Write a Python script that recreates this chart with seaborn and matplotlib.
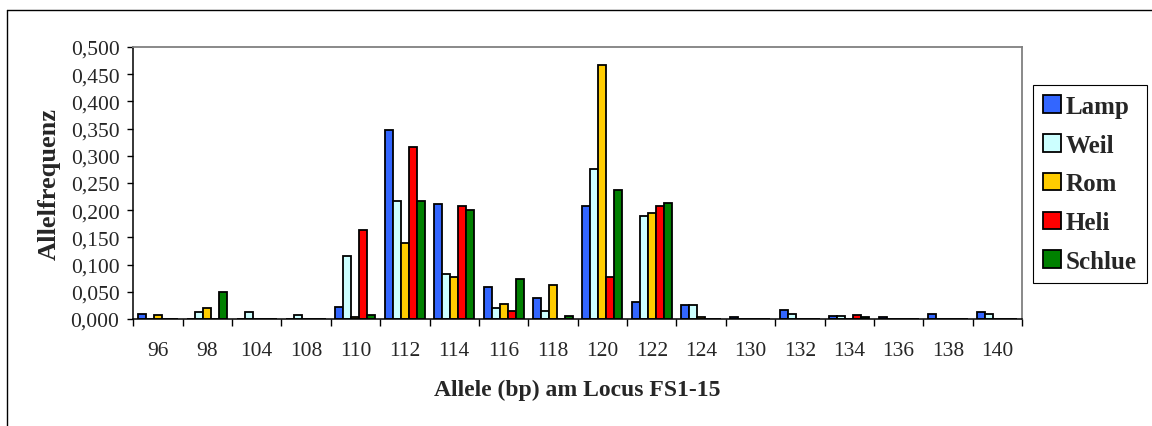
import numpy as np
import pandas as pd
import matplotlib
matplotlib.use('Agg')
import matplotlib.pyplot as plt
from matplotlib.lines import Line2D
from matplotlib.ticker import FuncFormatter
import seaborn as sns

# Allele (bp) am Locus FS1-15
alleles = ['96', '98', '104', '108', '110', '112', '114', '116', '118',
           '120', '122', '124', '130', '132', '134', '136', '138', '140']

lamp = [0.009, 0.000, 0.000, 0.000, 0.022, 0.348, 0.211, 0.059, 0.038,
        0.208, 0.031, 0.025, 0.003, 0.016, 0.006, 0.003, 0.010, 0.013]
weil = [0.000, 0.012, 0.012, 0.007, 0.116, 0.217, 0.083, 0.021, 0.015,
        0.276, 0.190, 0.025, 0.000, 0.010, 0.006, 0.000, 0.000, 0.009]
rom = [0.007, 0.020, 0.000, 0.000, 0.004, 0.140, 0.077, 0.027, 0.063,
       0.467, 0.194, 0.003, 0.000, 0.000, 0.000, 0.000, 0.000, 0.000]
heli = [0.000, 0.000, 0.000, 0.000, 0.164, 0.317, 0.208, 0.015, 0.000,
        0.077, 0.208, 0.000, 0.000, 0.000, 0.008, 0.000, 0.000, 0.000]
schlue = [0.000, 0.049, 0.000, 0.000, 0.007, 0.216, 0.201, 0.074, 0.005,
          0.237, 0.213, 0.000, 0.000, 0.000, 0.003, 0.000, 0.000, 0.000]

populations = ['Lamp', 'Weil', 'Rom', 'Heli', 'Schlue']
colors = ['#3366FF', '#CCFFFF', '#FFCC00', '#FF0000', '#008000']

series = {'Lamp': lamp, 'Weil': weil, 'Rom': rom, 'Heli': heli, 'Schlue': schlue}
rows = []
for pop in populations:
    for a, v in zip(alleles, series[pop]):
        rows.append({'allele': a, 'pop': pop, 'freq': v})
df = pd.DataFrame(rows)

sns.set_style('white')
plt.rcParams['font.family'] = ['Liberation Serif', 'DejaVu Serif']

fig = plt.figure(figsize=(11.52, 4.27), dpi=100)
ax = fig.add_axes([0.1157, 0.2506, 0.7715, 0.637])

sns.barplot(data=df, x='allele', y='freq', hue='pop', order=alleles,
            hue_order=populations, palette=dict(zip(populations, colors)),
            saturation=1, width=0.81, edgecolor='black', linewidth=1.3,
            errorbar=None, ax=ax)

ax.set_xlim(-0.5, len(alleles) - 0.5)
ax.set_ylim(0, 0.5)
ax.set_yticks(np.arange(0, 0.5001, 0.05))
ax.yaxis.set_major_formatter(FuncFormatter(lambda v, p: f"{v:.3f}".replace('.', ',')))
ax.tick_params(axis='y', which='major', direction='out', length=4, width=1,
               color='black', labelsize=15.5, pad=6, left=True)

# ticks between categories, labels in the middle
ax.set_xticks(np.arange(-0.5, len(alleles), 1))
ax.set_xticklabels([])
ax.set_xticks(np.arange(len(alleles)), minor=True)
ax.set_xticklabels(alleles, minor=True)
ax.tick_params(axis='x', which='major', direction='out', length=5, width=1,
               color='black', bottom=True)
ax.tick_params(axis='x', which='minor', length=0, labelsize=15.5, pad=16)

for side in ['left', 'bottom']:
    ax.spines[side].set_color('black')
    ax.spines[side].set_linewidth(1.1)
for side in ['top', 'right']:
    ax.spines[side].set_color('#808080')
    ax.spines[side].set_linewidth(1.3)

ax.set_xlabel('Allele (bp) am Locus FS1-15', fontsize=17, fontweight='bold', va='center')
ax.xaxis.set_label_coords(0.5, -0.26)
ax.set_ylabel('Allelfrequenz', fontsize=19, fontweight='bold', va='center')
ax.yaxis.set_label_coords(-0.094, 0.5)

handles, labels = ax.get_legend_handles_labels()
ax.legend(handles, labels, loc='upper left', bbox_to_anchor=(0.897, 0.7986),
          bbox_transform=fig.transFigure, borderaxespad=0, frameon=True,
          fancybox=False, shadow=False, framealpha=1, edgecolor='black',
          prop={'weight': 'bold', 'size': 18}, handlelength=0.7,
          handleheight=0.7, handletextpad=0.2, labelspacing=0.63,
          borderpad=0.4)
ax.get_legend().get_frame().set_linewidth(0.8)

# outer chart frame (only top and left edges fall inside the image)
fig.add_artist(Line2D([7 / 1152, 1], [1 - 11 / 427, 1 - 11 / 427],
                      transform=fig.transFigure, color='black', linewidth=1.0))
fig.add_artist(Line2D([7 / 1152, 7 / 1152], [0, 1 - 11 / 427],
                      transform=fig.transFigure, color='black', linewidth=1.0))

fig.savefig('out.png', dpi=100)
